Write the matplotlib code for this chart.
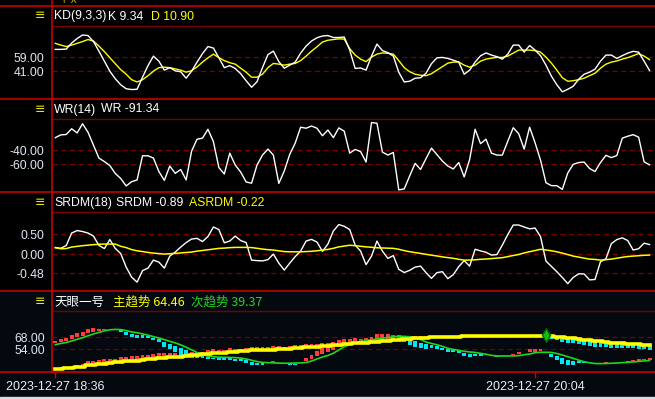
import matplotlib
matplotlib.use('Agg')
import matplotlib.pyplot as plt
import numpy as np
from matplotlib.patches import Rectangle

plt.rcParams['font.family'] = ['Liberation Sans', 'Noto Sans CJK SC', 'DejaVu Sans']

# ---------------- data ----------------
date_labels = ['2023-12-27 18:36', '2023-12-27 20:04']
date_ticks = [0, 88]

kd_ticks = [41.0, 59.0]
wr_ticks = [-60.0, -40.0]
srdm_ticks = [-0.48, 0.0, 0.5]
trend_ticks = [54.0, 68.0]

k_vals = [69.3, 69.3, 69.7, 77.4, 83.2, 87.7, 87.0, 79.3, 67.1, 54.2, 41.4, 31.7, 24.0, 18.9, 17.9, 18.2,
          33.7, 48.5, 60.7, 54.2, 42.7, 45.9, 41.8, 40.7, 32.4, 41.4, 53.0, 63.9, 72.9, 71.0, 58.7, 45.9,
          48.5, 44.9, 38.2, 29.2, 20.8, 27.9, 45.9, 62.6, 67.1, 53.6, 45.2, 49.1, 53.0, 64.5, 73.5, 80.0,
          84.2, 86.4, 87.0, 84.5, 84.5, 85.1, 68.4, 44.9, 45.5, 42.7, 60.7, 76.1, 67.7, 65.2, 60.7, 40.1,
          27.6, 28.5, 32.4, 33.0, 38.8, 51.0, 58.5, 59.0, 57.7, 55.5, 53.0, 37.5, 42.7, 53.0, 61.1, 64.8,
          62.0, 60.0, 56.8, 63.2, 74.8, 74.8, 65.8, 74.2, 68.4, 61.3, 49.1, 35.0, 24.0, 15.0, 18.2, 22.1,
          31.1, 37.5, 40.1, 44.0, 54.2, 62.0, 62.0, 57.7, 61.3, 64.5, 66.8, 65.8, 54.2, 42.3]
d_vals = [77.0, 74.8, 72.9, 74.8, 77.0, 79.3, 81.9, 80.0, 73.5, 66.5, 58.7, 51.0, 43.3, 37.5, 30.5, 27.6,
          30.5, 35.6, 41.4, 45.9, 46.5, 45.9, 44.3, 42.7, 40.1, 42.0, 46.9, 53.0, 58.5, 63.2, 58.7, 54.9,
          52.3, 50.4, 45.2, 40.1, 33.7, 33.7, 37.5, 45.9, 51.3, 50.4, 49.1, 50.4, 51.3, 54.9, 60.7, 67.1,
          72.6, 78.7, 81.0, 81.9, 82.8, 82.5, 70.3, 62.0, 56.8, 53.6, 59.4, 63.2, 64.8, 64.3, 63.2, 54.9,
          45.9, 40.7, 37.5, 36.2, 35.6, 38.2, 42.7, 47.2, 51.7, 53.0, 53.2, 49.1, 46.5, 49.1, 54.2, 56.8,
          58.1, 59.0, 59.0, 60.7, 64.5, 68.4, 68.4, 68.4, 67.7, 65.8, 59.4, 51.7, 42.7, 33.0, 28.5, 29.2,
          30.5, 32.4, 35.6, 38.8, 45.2, 50.4, 53.0, 54.5, 56.8, 58.7, 61.3, 63.9, 60.7, 56.2]

wr_vals = [-21.7, -17.7, -17.1, -8.9, -14.9, -1.7, -13.9, -32.4, -51.0, -56.0, -61.7, -73.1, -80.3, -91.0,
           -85.0, -82.4, -47.7, -47.7, -51.0, -70.3, -83.1, -62.4, -72.9, -67.4, -82.4, -41.0, -23.9, -22.4,
           -9.6, -27.4, -64.6, -73.9, -43.9, -61.0, -71.0, -85.3, -87.1, -61.0, -46.7, -38.1, -46.7, -87.4,
           -69.6, -45.7, -29.6, -6.7, -8.1, -5.0, -8.1, -18.9, -10.7, -21.7, -7.7, -12.4, -43.9, -38.6,
           -41.7, -56.7, 0.0, -1.0, -42.4, -46.7, -42.9, -96.7, -95.3, -76.7, -58.6, -67.4, -51.7, -36.7,
           -46.0, -55.3, -62.4, -66.7, -57.4, -78.1, -53.1, -9.6, -30.3, -23.9, -43.9, -46.7, -46.7, -26.7,
           -7.4, -16.0, -38.1, -6.7, -28.9, -53.9, -86.4, -90.6, -90.7, -96.0, -72.4, -60.0, -57.4, -56.7,
           -66.0, -70.3, -57.4, -47.1, -50.3, -47.4, -22.4, -19.6, -17.4, -21.0, -56.4, -60.7]

srdm_vals = [0.168, 0.147, 0.216, 0.533, 0.597, 0.572, 0.533, 0.457, 0.221, 0.140, 0.368, 0.145, 0.013,
             -0.330, -0.584, -0.711, -0.419, -0.356, -0.152, -0.203, -0.356, -0.051, 0.051, 0.178, 0.292,
             0.381, 0.399, 0.318, 0.445, 0.686, 0.622, 0.287, 0.330, 0.457, 0.343, 0.292, -0.152, -0.165,
             -0.173, -0.140, 0.000, -0.229, -0.406, -0.229, -0.064, 0.076, 0.330, 0.373, 0.305, 0.069,
             0.254, 0.584, 0.749, 0.704, 0.622, 0.229, 0.076, -0.267, -0.051, 0.330, 0.076, -0.109,
             -0.038, -0.386, -0.467, -0.411, -0.330, -0.305, -0.470, -0.615, -0.470, -0.445, -0.622,
             -0.521, -0.318, -0.165, -0.305, 0.122, 0.081, 0.046, -0.025, -0.013, 0.229, 0.495, 0.737,
             0.737, 0.686, 0.640, 0.660, 0.445, -0.178, -0.312, -0.447, -0.592, -0.749, -0.592, -0.500,
             -0.503, -0.653, -0.643, -0.193, -0.119, 0.267, 0.368, 0.411, 0.343, 0.102, 0.137, 0.277, 0.241]
asrdm_vals = [0.160, 0.135, 0.140, 0.178, 0.196, 0.213, 0.226, 0.239, 0.249, 0.254, 0.254, 0.254, 0.198,
              0.165, 0.114, 0.084, 0.064, 0.043, 0.025, 0.013, 0.000, 0.010, 0.018, 0.030, 0.041, 0.051,
              0.076, 0.091, 0.109, 0.127, 0.145, 0.152, 0.163, 0.170, 0.170, 0.170, 0.165, 0.147, 0.127,
              0.112, 0.102, 0.084, 0.064, 0.058, 0.058, 0.058, 0.064, 0.071, 0.084, 0.102, 0.119, 0.147,
              0.183, 0.203, 0.224, 0.213, 0.198, 0.183, 0.173, 0.160, 0.155, 0.150, 0.145, 0.122, 0.089,
              0.061, 0.038, 0.018, -0.005, -0.028, -0.048, -0.071, -0.089, -0.107, -0.132, -0.152, -0.152,
              -0.145, -0.132, -0.124, -0.114, -0.102, -0.091, -0.064, -0.036, -0.010, 0.030, 0.061, 0.091,
              0.122, 0.104, 0.084, 0.058, 0.025, -0.013, -0.051, -0.076, -0.102, -0.127, -0.135, -0.152,
              -0.142, -0.127, -0.104, -0.081, -0.061, -0.051, -0.041, -0.030, -0.025]

main_trend = [30.7, 31.0, 31.6, 32.5, 33.3, 33.9, 35.1, 35.7, 36.5, 37.4, 38.0, 38.6, 39.2, 39.8, 40.1, 40.4,
              41.3, 42.1, 43.0, 43.6, 44.1, 44.7, 45.0, 45.4, 46.2, 47.0, 47.8, 48.3, 48.8, 49.2, 49.6, 50.2,
              50.9, 51.2, 51.7, 52.1, 52.6, 53.0, 53.1, 53.3, 53.6, 54.0, 54.3, 54.8, 55.2, 55.5, 56.1, 56.7,
              57.2, 57.5, 57.9, 58.5, 59.3, 59.8, 60.3, 60.8, 61.1, 61.8, 62.4, 63.0, 63.6, 64.2, 64.6, 65.2,
              65.9, 66.5, 67.0, 67.3, 67.6, 68.0, 68.1, 68.4, 68.6, 68.7, 68.9, 69.1, 69.3, 69.4, 69.5, 69.5,
              69.6, 69.8, 69.8, 69.9, 69.9, 69.9, 69.9, 69.9, 69.9, 69.9, 69.9, 69.3, 68.7, 67.9, 67.4, 66.8,
              66.0, 65.3, 64.5, 63.7, 63.1, 62.5, 61.9, 61.4, 61.0, 60.5, 60.2, 59.7, 59.1, 58.7]
sub_trend = [59.4, 60.8, 61.9, 63.7, 65.7, 67.5, 69.8, 71.9, 73.7, 75.6, 76.8, 77.2, 77.0, 75.8, 74.3, 73.3,
             72.0, 70.5, 68.8, 67.2, 65.3, 63.3, 61.5, 59.2, 56.4, 53.4, 50.3, 47.7, 46.1, 45.4, 44.8, 44.7,
             44.5, 44.3, 43.8, 42.7, 41.2, 39.7, 38.7, 38.4, 38.1, 37.9, 37.7, 37.8, 38.0, 38.1, 38.6, 40.3,
             42.7, 45.0, 46.8, 49.4, 53.2, 56.9, 59.8, 61.9, 63.1, 64.1, 65.2, 66.0, 67.0, 67.8, 68.6, 69.2,
             69.1, 68.6, 67.2, 65.4, 62.5, 60.8, 59.3, 57.4, 55.2, 53.9, 52.7, 51.7, 50.9, 50.3, 49.3, 48.2,
             46.9, 46.2, 46.2, 46.2, 46.2, 46.6, 47.6, 48.5, 50.0, 50.5, 50.5, 50.3, 49.1, 47.3, 45.4, 43.4,
             41.4, 39.5, 38.2, 37.4, 37.3, 37.4, 37.7, 38.0, 38.4, 38.8, 39.3, 39.8, 40.4, 40.9]

# signed bar lengths attached to each trend line (red = up, cyan = down)
main_bars = [1.7, 2.3, 2.3, 2.3, 2.3, 3.5, 4.7, 5.0, 5.0, 5.3, 4.7, 4.1, 5.3, 5.6, 5.8, 5.8, 6.4, 5.8, 5.6, 5.8,
             5.3, 5.0, 5.0, 5.5, 4.7, 4.1, 3.5, 3.0, 4.1, 4.7, 3.5, 3.2, 4.3, 3.5, 2.3, 3.2, 3.5, 4.0, 3.5, 3.5,
             4.1, 3.5, 2.9, 2.7, 3.9, 3.9, 3.5, 3.9, 3.5, 3.9, 3.5, 4.1, 5.8, 5.8, 5.3, 5.3, 4.7, 4.7, 5.5, 8.2,
             8.2, 7.4, 6.4, 5.3, 4.1, 3.5, 2.9, 2.3, 1.8, 1.8, 1.8, 1.4, 1.2, 0.8, 0, 0, 0, 0, 0.9, 0.9,
             0, 0, 0, 0, 0, 0, 0, 0, 0, 0, 0, -3.3, -3.9, -5.8, -5.8, -5.8, -6.2, -6.3, -6.1, -6.6,
             -6.1, -6.1, -6.1, -5.5, -5.5, -5.4, -5.0, -5.4, -5.1, -5.5]
sub_bars = [4.7, 5.3, 4.9, 7.0, 7.0, 7.0, 7.6, 6.6, 3.6, 1.8, 1.4, 0.9, -2.3, -5.1, -5.6, -6.4, -5.1, -2.9, -3.5,
            -4.3, -8.3, -9.3, -10.3, -11.9, -9.9, -9.9, -6.8, -4.2, -3.5, -2.9, -2.9, -2.9, -3.5, -3.5, -3.5,
            -4.7, -5.5, -4.1, -2.9, 0, 2.6, 0, 0, -2.1, -1.8, 1.4, 4.9, 7.0, 9.7, 10.2, 11.1, 10.7, 9.7, 8.8,
            4.2, 4.9, 2.6, 2.9, 2.8, 5.8, 4.9, 4.1, 2.1, 0.6, -6.2, -9.6, -10.2, -10.3, -8.2, -5.6, -4.7, -4.7,
            -4.0, -2.9, -3.5, -5.5, -5.5, -3.7, -3.5, 0, 0, -1.2, 0, 0, 2.3, 4.6, 1.2, 5.5, 4.0, 3.9, 0, -5.6,
            -7.6, -10.5, -9.7, -7.7, -3.7, -1.9, 0, 0, 0, 1.4, 0, 0, 1.2, 1.8, 1.8, 2.9, 2.3, 2.9]

signal_idx = [90]
signal_val = [70.7]

# ---------------- styling ----------------
W, H = 655, 399
BRIGHT = '#d80000'
DARK = '#7a0000'
LABEL = '#dfe6f2'
YELLOW = '#ffff00'
GREEN = '#1ed81e'
RED_BAR = '#ff3c3c'
CYAN_BAR = '#00e4f4'
FS = 8.8
XL = (-0.55, 110.0)

fig = plt.figure(figsize=(W / 100, H / 100), dpi=100, facecolor='black')

ov = fig.add_axes([0, 0, 1, 1], zorder=0)
ov.set_xlim(0, W)
ov.set_ylim(H, 0)
ov.axis('off')
ov.add_patch(Rectangle((0, 291.7), W, 105, color='#04080f', zorder=0))
ov.add_patch(Rectangle((0, 396.5), W, 3, color='#d6dbe3', zorder=0))

# frame lines
for y in [6, 99.3, 192.4, 291.2, 372]:
    ov.plot([0, W], [y, y], color=BRIGHT, lw=1.1, zorder=3)
for y in [26, 119.3, 212.3, 311]:
    ov.plot([52.3, W], [y, y], color=DARK, lw=1.0, zorder=3)
ov.plot([52.3, 52.3], [0, 372], color=BRIGHT, lw=1.1, zorder=3)

# partially visible caption of the (cropped) panel above
ov.text(58, 1.0, '十大', color='#e0c400', fontsize=7.5, va='center', ha='left',
        family=['Noto Sans CJK SC', 'DejaVu Sans'], zorder=1)
ov.add_patch(Rectangle((52.8, 3.0), 60, 2.4, color='black', zorder=2))

for y in [16, 109, 202.5, 302]:
    ov.text(40, y, '≡', color='#e8e800', fontsize=9, ha='center', va='center', family=['DejaVu Sans'])

def title(parts, y, cjk=False):
    for x, s, c in parts:
        fam = ['Noto Sans CJK SC', 'Liberation Sans'] if cjk else ['Liberation Sans', 'DejaVu Sans']
        ov.text(x, y, s, color=c, fontsize=9.0 if cjk else FS, ha='left', va='center', family=fam)

title([(54, 'KD(9,3,3)', 'white'), (108, 'K 9.34', 'white'), (151, 'D 10.90', YELLOW)], 16.5)
title([(54, 'WR(14)', 'white'), (101, 'WR -91.34', 'white')], 109.5)
title([(54, 'SRDM(18)', 'white'), (116, 'SRDM -0.89', 'white'), (189, 'ASRDM -0.22', YELLOW)], 203)
title([(54, '天眼一号', 'white'), (113, '主趋势 64.46', YELLOW), (191, '次趋势 39.37', GREEN)], 302, cjk=True)


def panel(y0, y1, ylim, ticks, ticklabels):
    ax = fig.add_axes([52.3 / W, 1 - y1 / H, (W - 52.3) / W, (y1 - y0) / H], zorder=2)
    ax.set_facecolor('none')
    for s in ax.spines.values():
        s.set_visible(False)
    ax.set_xlim(*XL)
    ax.set_ylim(*ylim)
    ax.set_yticks(ticks)
    ax.set_yticklabels(ticklabels)
    ax.tick_params(axis='y', length=0, pad=5.5, labelsize=FS, labelcolor=LABEL)
    ax.set_xticks([])
    for t in ticks:
        ax.axhline(t, color=DARK, lw=0.9, ls=(0, (4, 3)), zorder=0)
    return ax

ax1 = panel(26, 99.3, (5.39, 99.24), kd_ticks, ['41.00', '59.00'])
ax1.plot(np.arange(len(d_vals)), d_vals, color=YELLOW, lw=1.0, zorder=3)
ax1.plot(np.arange(len(k_vals)), k_vals, color='white', lw=1.0, zorder=4)

ax2 = panel(119.3, 192.4, (-100.3, 4.7), wr_ticks, ['-60.00', '-40.00'])
ax2.plot(np.arange(len(wr_vals)), wr_vals, color='white', lw=1.0)

ax3 = panel(212.3, 291.2, (-0.94, 1.059), srdm_ticks, ['-0.48', '0.00', '0.50'])
ax3.plot(np.arange(len(srdm_vals)), srdm_vals, color='white', lw=1.0, zorder=3)
ax3.plot(np.arange(len(asrdm_vals)), asrdm_vals, color=YELLOW, lw=1.1, zorder=4)

ax4 = panel(311, 372, (27.5, 98.7), trend_ticks, ['54.00', '68.00'])
xm = np.arange(len(main_trend))
mb = np.array(main_bars)
mt = np.array(main_trend)
sel = mb != 0
ax4.bar(xm[sel], mb[sel], bottom=mt[sel], width=0.72,
        color=[RED_BAR if v > 0 else CYAN_BAR for v in mb[sel]], zorder=2)
xs = np.arange(len(sub_trend))
sb = np.array(sub_bars)
st = np.array(sub_trend)
sel = sb != 0
ax4.bar(xs[sel], 0.65 * sb[sel], bottom=st[sel] + 0.35 * sb[sel], width=0.72,
        color=[RED_BAR if v > 0 else CYAN_BAR for v in sb[sel]], zorder=2)
ax4.plot(xs, sub_trend, color=GREEN, lw=1.2, zorder=3)
ax4.plot(xm, main_trend, color=YELLOW, lw=2.6, drawstyle='steps-mid', zorder=4)
ax4.plot(signal_idx, signal_val, ls='none', marker='d', ms=7, color='#10c010',
         markeredgecolor='#006000', zorder=5)
ax4.set_xticks(date_ticks)
ax4.set_xticklabels(date_labels)
ax4.tick_params(axis='x', direction='out', length=4.5, width=1, color=BRIGHT,
                labelsize=9, labelcolor='#e8eef8', pad=2)

fig.savefig('out.png', dpi=100, facecolor='black')
